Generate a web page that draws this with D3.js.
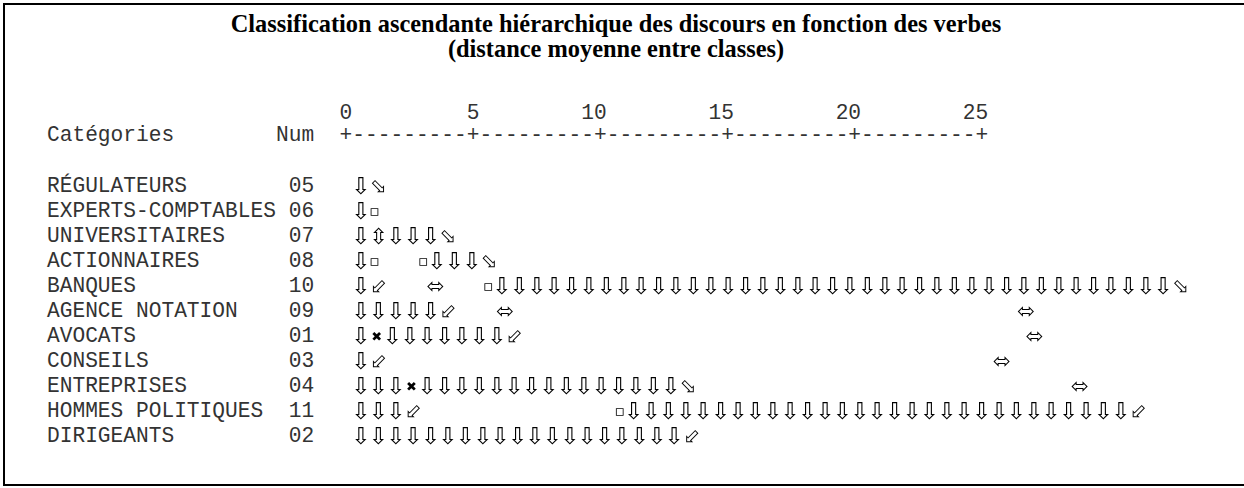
<!DOCTYPE html>
<html>
<head>
<meta charset="utf-8">
<script src="https://cdn.jsdelivr.net/npm/d3@7"></script>
<style>
  body { margin: 0; background: #fff; }
  .glyphs { opacity: 0.999; will-change: transform; }
</style>
</head>
<body>
<script>
    // chart text + data
    let titleLines = ["Classification ascendante hiérarchique des discours en fonction des verbes",
                      "(distance moyenne entre classes)"]
    let categories = ["RÉGULATEURS", "EXPERTS-COMPTABLES", "UNIVERSITAIRES", "ACTIONNAIRES", "BANQUES",
                      "AGENCE NOTATION", "AVOCATS", "CONSEILS", "ENTREPRISES", "HOMMES POLITIQUES", "DIRIGEANTS"]
    let nums = ["05", "06", "07", "08", "10", "09", "01", "03", "04", "11", "02"]
    let ticks = [0, 5, 10, 15, 20, 25]
    // dendrogram rows, one char per column (as the glyphs came out of the SPSS text)
    let tree = [
        "⇩⬂",
        "⇩▫",
        "⇩⇳⇩⇩⇩⬂",
        "⇩▫   ▫⇩⇩⇩⬂",
        "⇩⬃   ⬄   ▫" + "⇩".repeat(39) + "⬂",
        "⇩⇩⇩⇩⇩⬃   ⬄" + " ".repeat(39) + "⬄",
        "⇩✖⇩⇩⇩⇩⇩⇩⇩⬃" + " ".repeat(39) + "⬄",
        "⇩⬃" + " ".repeat(47) + "⬄",
        "⇩⇩⇩✖" + "⇩".repeat(15) + "⬂" + " ".repeat(29) + "⬄",
        "⇩⇩⇩⬃" + " ".repeat(15) + "▫" + "⇩".repeat(29) + "⬃",
        "⇩".repeat(19) + "⬃"
    ]

    let W = 1244, H = 488
    let svg = d3.select("body").append("svg").attr("width", W).attr("height", H)

    svg.append("rect").attr("x", 4).attr("y", 4).attr("width", W + 20).attr("height", 481)
       .attr("fill", "none").attr("stroke", "#000").attr("stroke-width", 2)

    let mono = "'Liberation Mono', 'Courier New', monospace", fs = 21.2, cw = fs * 0.6, left = 47
    let col = c => left + c * cw

    let x = d3.scaleLinear().domain([0, 25]).range([col(23.5), col(73.5)])
    let y = d3.scalePoint().domain(categories).range([186, 436])

    // title
    svg.selectAll("text.title").data(titleLines).join("text").attr("class", "title")
       .attr("x", 616).attr("y", (d, i) => 32 + i * 25)
       .attr("text-anchor", "middle")
       .attr("font-family", "'Liberation Serif', 'Times New Roman', serif")
       .attr("font-weight", "bold").attr("font-size", 24.4)
       .text(d => d)

    let monoText = (sel) => sel.attr("font-family", mono).attr("font-size", fs).attr("fill", "#333")
                               .style("white-space", "pre")

    // axis numbers, right aligned on their "+"
    svg.selectAll("text.tick").data(ticks).join("text").attr("class", "tick")
       .attr("x", d => x(d) + cw / 2).attr("y", 119).attr("text-anchor", "end")
       .call(monoText).text(d => d)

    // axis line: "+" on ticks, dashes on every half unit between
    let dashes = d3.range(0, 25, 0.5).filter(d => d % 5 !== 0)
    svg.selectAll("text.plus").data(ticks).join("text").attr("class", "plus")
       .attr("x", d => x(d)).attr("y", 141).attr("text-anchor", "middle")
       .call(monoText).text("+")
    svg.selectAll("text.dash").data(dashes).join("text").attr("class", "dash")
       .attr("x", d => x(d)).attr("y", 141).attr("text-anchor", "middle")
       .call(monoText).text("-")

    svg.append("text").attr("x", col(0)).attr("y", 141).call(monoText).text("Catégories")
    svg.append("text").attr("x", col(18)).attr("y", 141).call(monoText).text("Num")

    // row labels
    svg.selectAll("text.cat").data(categories).join("text").attr("class", "cat")
       .attr("x", col(0)).attr("y", d => y(d) + 6).call(monoText).text(d => d)
    svg.selectAll("text.num").data(nums).join("text").attr("class", "num")
       .attr("x", col(19)).attr("y", (d, i) => y(categories[i]) + 6).call(monoText).text(d => d)

    // glyph advances (the symbol font is wider than the mono spaces)
    let adv = {" ": 12.87, "⇩": 17.4, "⬂": 17.4, "⬃": 17.4, "⇳": 17.4, "✖": 14, "⬄": 19, "▫": 10}
    let gsize = {"⇩": 23, "⬂": 20, "⬃": 20, "⇳": 22, "✖": 13, "⬄": 21, "▫": 15}

    let glyphs = []
    tree.forEach((s, i) => {
        let cx = x(0) + cw / 2
        for (let ch of s) {
            let a = adv[ch]
            if (ch !== " ") glyphs.push({ch: ch, cx: cx + a / 2, cat: categories[i]})
            cx += a
        }
    })

    svg.append("g").attr("class", "glyphs")
       .selectAll("text.glyph").data(glyphs).join("text").attr("class", "glyph")
       .attr("x", d => d.cx).attr("y", d => y(d.cat))
       .attr("text-anchor", "middle").attr("dominant-baseline", "central")
       .attr("font-family", "'DejaVu Sans', sans-serif")
       .attr("font-size", d => gsize[d.ch]).attr("fill", "#000")
       .text(d => d.ch)
</script>
</body>
</html>
